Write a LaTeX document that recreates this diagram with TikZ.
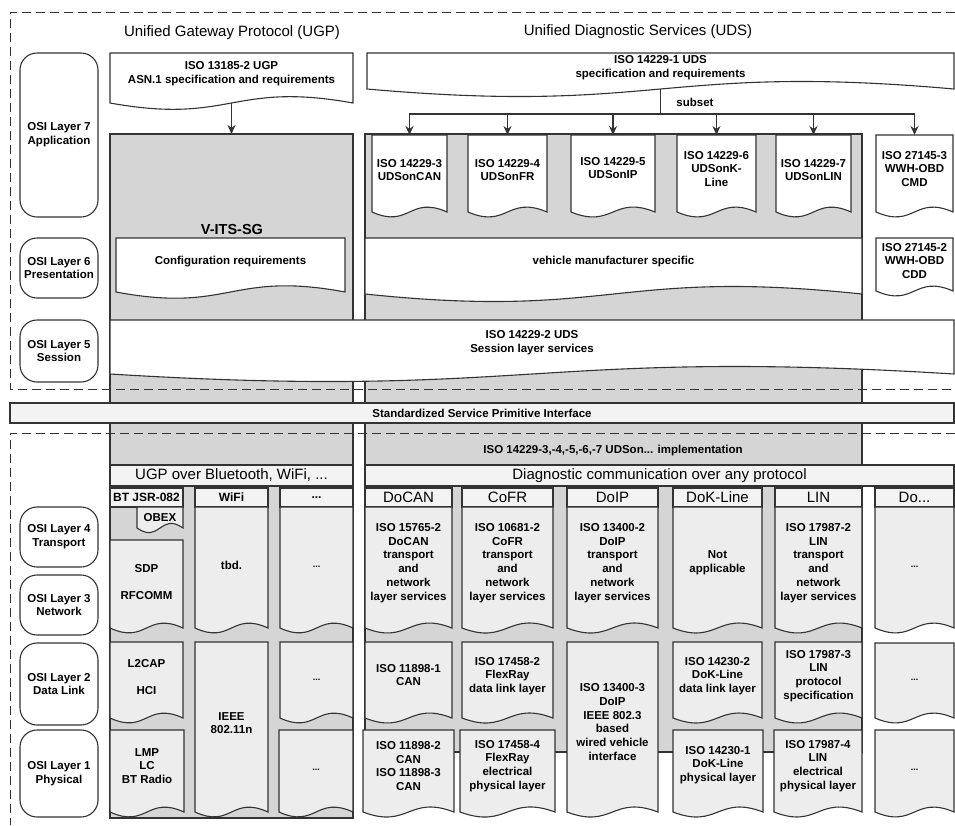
\documentclass[tikz,border=0pt]{standalone}
\usepackage{fontspec}
\setmainfont{Liberation Sans}
\usetikzlibrary{arrows.meta}
\definecolor{colgrey}{HTML}{D5D5D5}
\definecolor{cellgrey}{HTML}{EDEDED}
\definecolor{bargrey}{HTML}{F3F3F3}
\definecolor{linegrey}{HTML}{333333}
\tikzset{
  outline/.style = {draw=linegrey, line width=1.1pt},
  column/.style = {outline, fill=colgrey},
  boxtext/.style = {align=center, inner sep=0pt, font=\fontsize{11.5}{13.8}\selectfont\bfseries},
  dotstext/.style = {align=center, inner sep=0pt, font=\fontsize{9}{10}\selectfont\bfseries},
  titletext/.style = {inner sep=0pt, font=\fontsize{15}{18}\selectfont},
  headsmall/.style = {font=\fontsize{12}{14}\selectfont\bfseries},
  headbig/.style = {font=\fontsize{15}{18}\selectfont},
  osibox/.style = {outline, boxtext, fill=white, rounded corners=17pt, minimum width=78pt},
  bar/.style = {outline, fill=bargrey, inner sep=0pt},
  frame/.style = {draw=linegrey, line width=0.9pt, dash pattern=on 9pt off 5pt},
  flow/.style = {draw=linegrey, line width=1.1pt},
  tip/.style = {-{Stealth[length=9pt,width=8pt]}},
}
% document box with wavy foot: [fill]{name}{x1}{top}{x2}{foot}{text y}{text}
\newcommand{\docbox}[8][white]{%
  \pgfmathsetmacro{\wv}{min(17+0.03*(#5-#3-80),26)}%
  \draw[outline, fill=#1] (#3,#4) -- (#5,#4) -- (#5,#6)
    .. controls ({(#3+#5)/2},{#6-\wv}) and ({(#3+#5)/2},{#6+\wv}) .. (#3,#6) -- cycle;
  \coordinate (#2-top) at ({(#3+#5)/2},#4);
  \coordinate (#2-foot) at ({(#3+#5)/2},#6);
  \node[boxtext] (#2) at ({(#3+#5)/2},#7) {#8};
}
% header cell: [style]{name}{x1}{x2}{text}
\newcommand{\headcell}[5][headsmall]{%
  \pgfmathsetmacro{\cw}{#4-#3}%
  \node[bar, #1, minimum width=\cw pt, minimum height=19pt] (#2) at ({(#3+#4)/2},497.5) {#5};
}
\begin{document}
\begin{tikzpicture}[x=1pt, y=-1pt]
  \useasboundingbox (0,0) rectangle (955,825);

  % protocol columns
  \draw[column] (110,134) rectangle (353,818);
  \draw[column] (365,134) rectangle (862,752);

  \node[titletext] (ugptitle) at (232,33) {Unified Gateway Protocol (UGP)};
  \node[titletext] (udstitle) at (638,32) {Unified Diagnostic Services (UDS)};

  % layer 7
  \docbox{ugpspec}{110}{53}{353}{103}{74}{ISO 13185-2 UGP\\ASN.1 specification and requirements}
  \docbox{udsspec}{367}{53}{954}{89}{68}{ISO 14229-1 UDS\\specification and requirements}
  \coordinate (vits-top) at (231.5,134);
  \draw[flow, tip] (ugpspec-foot) -- (vits-top);

  \docbox{uds3}{372}{135}{447}{212}{170}{ISO 14229-3\\UDSonCAN}
  \docbox{uds4}{468}{135}{547}{212}{170}{ISO 14229-4\\UDSonFR}
  \docbox{uds5}{571}{135}{655}{212}{168}{ISO 14229-5\\UDSonIP}
  \docbox{uds6}{677}{135}{756}{212}{169}{ISO 14229-6\\UDSonK-\\Line}
  \docbox{uds7}{776}{135}{851}{212}{170}{ISO 14229-7\\UDSonLIN}
  \docbox{obd3}{876}{135}{953}{212}{169}{ISO 27145-3\\WWH-OBD\\CMD}

  \coordinate (split) at (660.5,114);
  \draw[flow] (udsspec-foot) -- (split);
  \node[boxtext] (subset) at (695,102) {subset};
  \foreach \sub in {uds3,uds4,uds5,uds6,uds7,obd3}
    \draw[flow, tip] (split) -| (\sub-top);

  % layer 6
  \node[boxtext, font=\fontsize{14.5}{17}\selectfont\bfseries] (vits) at (232,230) {V-ITS-SG};
  \docbox{config}{116}{238}{345}{292}{262}{Configuration requirements}
  \docbox{vms}{365}{238}{862}{294}{262}{vehicle manufacturer specific}
  \docbox{obd2}{876}{238}{953}{291}{261}{ISO 27145-2\\WWH-OBD\\CDD}

  % layer 5
  \docbox{session}{110}{320}{954}{374}{343}{ISO 14229-2 UDS\\Session layer services}

  % upper and lower frames
  \draw[frame] (955,12) -- (10,12) -- (10,389) -- (955,389);
  \draw[frame] (955,433) -- (10,433) -- (10,825);

  \node[bar, boxtext, minimum width=944pt, minimum height=20pt] (spi) at (482,413) {Standardized Service Primitive Interface};
  \node[boxtext] (impl) at (613,451) {ISO 14229-3,-4,-5,-6,-7 UDSon... implementation};

  \node[bar, titletext, minimum width=243pt, minimum height=21pt] (ugpover) at (231.5,475.5) {UGP over Bluetooth, WiFi, ...};
  \node[bar, titletext, minimum width=589pt, minimum height=21pt] (diagover) at (659.5,475.5) {Diagnostic communication over any protocol};

  % headers
  \headcell{bt}{110}{183}{BT JSR-082}
  \headcell{wifi}{195}{268}{WiFi}
  \headcell{ugpx}{280}{353}{...}
  \headcell[headbig]{docan}{365}{452}{DoCAN}
  \headcell[headbig]{cofr}{462}{553}{CoFR}
  \headcell[headbig]{doip}{567}{658}{DoIP}
  \headcell[headbig]{dok}{673}{762}{DoK-Line}
  \headcell[headbig]{lin}{775}{862}{LIN}
  \headcell[headbig]{dox}{875}{954}{Do...}

  % UGP cells
  \docbox[cellgrey]{obex}{137}{507}{183}{528}{518}{OBEX}
  \docbox[cellgrey]{sdp}{110}{540}{183}{628}{582}{SDP\\[14pt]RFCOMM}
  \docbox[cellgrey]{l2cap}{110}{642}{183}{718}{677}{L2CAP\\[14pt]HCI}
  \docbox[cellgrey]{lmp}{110}{730}{184}{812}{766}{LMP\\LC\\BT Radio}
  \docbox[cellgrey]{tbd}{195}{507}{268}{628}{565}{tbd.}
  \docbox[cellgrey]{ieee}{195}{642}{268}{812}{723}{IEEE\\802.11n}
  \docbox[cellgrey]{ugpx4}{280}{507}{353}{628}{567}{}
  \docbox[cellgrey]{ugpx2}{280}{642}{353}{718}{680}{}
  \docbox[cellgrey]{ugpx1}{279}{730}{353}{812}{770}{}

  % UDS cells
  \docbox[cellgrey]{docan4}{365}{507}{452}{628}{563}{ISO 15765-2\\DoCAN\\transport\\and\\network\\layer services}
  \docbox[cellgrey]{can2}{365}{642}{452}{718}{675}{ISO 11898-1\\CAN}
  \docbox[cellgrey]{can1}{363}{730}{454}{812}{766}{ISO 11898-2\\CAN\\ISO 11898-3\\CAN}
  \docbox[cellgrey]{cofr4}{462}{507}{553}{628}{563}{ISO 10681-2\\CoFR\\transport\\and\\network\\layer services}
  \docbox[cellgrey]{fr2}{462}{642}{553}{718}{676}{ISO 17458-2\\FlexRay\\data link layer}
  \docbox[cellgrey]{fr1}{460}{730}{555}{812}{766}{ISO 17458-4\\FlexRay\\electrical\\physical layer}
  \docbox[cellgrey]{doip4}{567}{507}{658}{628}{563}{ISO 13400-2\\DoIP\\transport\\and\\network\\layer services}
  \docbox[cellgrey]{doip2}{567}{642}{658}{812}{722}{ISO 13400-3\\DoIP\\IEEE 802.3\\based\\wired vehicle\\interface}
  \docbox[cellgrey]{dok4}{673}{507}{762}{628}{563}{Not\\applicable}
  \docbox[cellgrey]{dok2}{673}{642}{762}{718}{676}{ISO 14230-2\\DoK-Line\\data link layer}
  \docbox[cellgrey]{dok1}{673}{730}{763}{812}{765}{ISO 14230-1\\DoK-Line\\physical layer}
  \docbox[cellgrey]{lin4}{775}{507}{862}{628}{563}{ISO 17987-2\\LIN\\transport\\and\\network\\layer services}
  \docbox[cellgrey]{lin2}{775}{642}{862}{718}{676}{ISO 17987-3\\LIN\\protocol\\specification}
  \docbox[cellgrey]{lin1}{774}{730}{862}{812}{766}{ISO 17987-4\\LIN\\electrical\\physical layer}
  \docbox[cellgrey]{dox4}{875}{507}{954}{628}{567}{}
  \docbox[cellgrey]{dox2}{875}{643}{954}{718}{680}{}
  \docbox[cellgrey]{dox1}{875}{730}{954}{812}{770}{}
  \foreach \cell in {ugpx4,ugpx2,ugpx1,dox4,dox2,dox1}
    \node[dotstext] at (\cell) {...};

  % OSI layers
  \node[osibox, minimum height=164pt] (osi7) at (59,135) {OSI Layer 7\\Application};
  \node[osibox, minimum height=60pt] (osi6) at (59,268) {OSI Layer 6\\Presentation};
  \node[osibox, minimum height=62pt] (osi5) at (59,351) {OSI Layer 5\\Session};
  \node[osibox, minimum height=60pt] (osi4) at (59,537) {OSI Layer 4\\Transport};
  \node[osibox, minimum height=60pt] (osi3) at (59,605) {OSI Layer 3\\Network};
  \node[osibox, minimum height=82pt] (osi2) at (59,684) {OSI Layer 2\\Data Link};
  \node[osibox, minimum height=87pt] (osi1) at (59,773.5) {OSI Layer 1\\Physical};
\end{tikzpicture}
\end{document}
